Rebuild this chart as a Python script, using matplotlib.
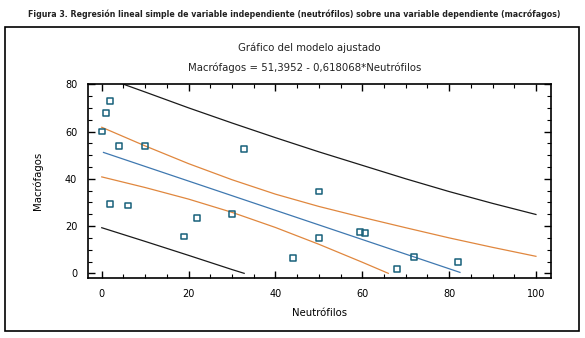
import numpy as np
import matplotlib
matplotlib.use("Agg")
import matplotlib.pyplot as plt
from matplotlib.patches import Rectangle
from matplotlib.ticker import MultipleLocator

# observed points (neutrofilos, macrofagos)
neutrofilos = [0, 1, 2, 1.9, 4, 6, 10, 19, 22, 30, 32.8, 44, 50, 50, 59.5, 60.6, 68, 72, 82]
macrofagos = [60, 68, 73, 29.5, 54, 28.7, 54, 15.6, 23.4, 25.2, 52.5, 6.4, 34.6, 14.9, 17.3, 17.0, 2.0, 7.0, 4.8]

# fitted model from the chart header
intercept = 51.3952
slope = -0.618068
fit_x = [0.4, 82.5]

# confidence limits for the mean (orange)
ci_up_x = [0, 10, 20, 30, 40, 50, 60, 70, 80, 90, 100]
ci_up_y = [61.8, 53.9, 46.4, 39.6, 33.5, 28.3, 23.7, 19.3, 15.0, 11.0, 7.2]
ci_lo_x = [0, 10, 20, 30, 40, 50, 60, 66]
ci_lo_y = [40.8, 36.3, 31.4, 25.8, 19.4, 12.3, 4.7, 0]

# prediction limits (black)
pi_up_x = [5, 10, 20, 30, 40, 50, 60, 70, 80, 90, 100]
pi_up_y = [80, 76.7, 70.0, 63.6, 57.4, 51.4, 45.7, 40.0, 34.6, 29.6, 24.9]
pi_lo_x = [0, 10, 20, 30, 32.8]
pi_lo_y = [19.3, 13.5, 7.6, 1.6, 0]

fig = plt.figure(figsize=(5.85, 3.38), dpi=100)

# frame around the whole figure
fig.patches.append(Rectangle((5 / 585, 1 - 331 / 338), 574 / 585, 304 / 338,
                             transform=fig.transFigure, fill=False,
                             edgecolor='black', linewidth=1.2))

fig.text(294 / 585, 1 - 14 / 338,
         'Figura 3. Regresión lineal simple de variable independiente (neutrófilos) sobre una variable dependiente (macrófagos)',
         ha='center', va='center', fontsize=6.3, fontweight='bold', color='#222222',
         family='DejaVu Sans', fontstretch='condensed')
fig.text(309 / 585, 1 - 48 / 338, 'Gráfico del modelo ajustado',
         ha='center', va='center', fontsize=7.3, color='#222222')
fig.text(305 / 585, 1 - 68 / 338, 'Macrófagos = 51,3952 - 0,618068*Neutrófilos',
         ha='center', va='center', fontsize=7.3, color='#222222')

ax = fig.add_axes([88.3 / 585, 1 - 278.3 / 338, 462.4 / 585, 194.3 / 338])

ax.plot(pi_up_x, pi_up_y, color='#1a1a1a', linewidth=0.9)
ax.plot(pi_lo_x, pi_lo_y, color='#1a1a1a', linewidth=0.9)
ax.plot(ci_up_x, ci_up_y, color='#e0873e', linewidth=0.9)
ax.plot(ci_lo_x, ci_lo_y, color='#e0873e', linewidth=0.9)
fx = np.array(fit_x)
ax.plot(fx, intercept + slope * fx, color='#3f78b0', linewidth=0.9)

ax.scatter(neutrofilos, macrofagos, marker='s', s=18, facecolors='none',
           edgecolors='#17607a', linewidths=1.1, zorder=3)

ax.set_xlim(-3.1, 103.4)
ax.set_ylim(-2.1, 80.1)
ax.xaxis.set_major_locator(MultipleLocator(20))
ax.xaxis.set_minor_locator(MultipleLocator(5))
ax.yaxis.set_major_locator(MultipleLocator(20))
ax.yaxis.set_minor_locator(MultipleLocator(5))
ax.tick_params(which='both', direction='in', top=True, right=True,
               labelsize=7, colors='black', pad=8)
ax.tick_params(which='major', length=5, width=1)
ax.tick_params(which='minor', length=3, width=0.8)
for s in ax.spines.values():
    s.set_linewidth(1.2)

ax.set_xlabel('Neutrófilos', fontsize=7.3, labelpad=6)
ax.set_ylabel('Macrófagos', fontsize=7.3, labelpad=16)

fig.savefig('out.png', dpi=100)
